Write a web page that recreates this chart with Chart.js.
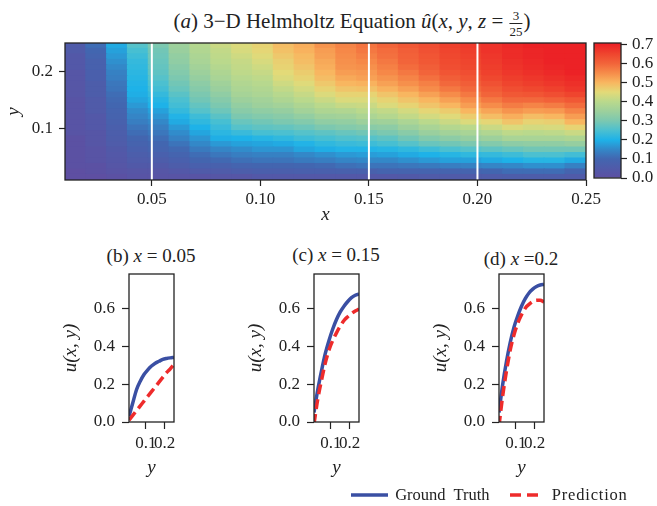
<!DOCTYPE html>
<html>
<head>
<meta charset="utf-8">
<script src="https://cdn.jsdelivr.net/npm/chart.js@4.4.1/dist/chart.umd.min.js"></script>
<style>
  html, body { margin: 0; padding: 0; background: #fff; }
  #wrap { position: relative; width: 657px; height: 506px; overflow: hidden;
          font-family: 'Liberation Serif', serif; color: #222; }
  canvas { position: absolute; }
  .ttl { position: absolute; white-space: nowrap; line-height: 1; transform: translateX(-50%); }
  .frac { display: inline-block; vertical-align: middle; text-align: center; font-size: 13px; line-height: 1; margin: 0 1px; }
  .frac span { display: block; }
  .frac span:first-child { border-bottom: 1px solid #222; padding: 0 1px 1px; }
  .frac span:last-child { padding-top: 1px; }
  #legend { position: absolute; top: 484px; left: 350px; font-size: 16.5px; white-space: nowrap; }
  #legend svg { vertical-align: middle; }
  #legend span { vertical-align: middle; }
</style>
</head>
<body>
<div id="wrap">
  <div class="ttl" style="left:352px; top:9px; font-size:21px;">(<i>a</i>) 3−D Helmholtz Equation <i>û</i>(<i>x</i>, <i>y</i>, <i>z</i> = <span class="frac"><span>3</span><span>25</span></span>)</div>
  <canvas id="heat" width="657" height="235" style="left:0; top:0;"></canvas>
  <canvas id="cbar" width="97" height="215" style="left:560px; top:0;"></canvas>

  <div class="ttl" style="left:151px; top:246px; font-size:19px;">(b) <i>x</i> = 0.05</div>
  <div class="ttl" style="left:336px; top:245px; font-size:19px;">(c) <i>x</i> = 0.15</div>
  <div class="ttl" style="left:521px; top:249px; font-size:19px;">(d) <i>x</i> =0.2</div>
  <canvas id="subB" width="185" height="252" style="left:0; top:230px;"></canvas>
  <canvas id="subC" width="185" height="252" style="left:185px; top:230px;"></canvas>
  <canvas id="subD" width="185" height="252" style="left:370px; top:230px;"></canvas>

  <div id="legend">
    <svg width="38" height="10"><line x1="1" y1="5" x2="38" y2="5" stroke="#3a4fa3" stroke-width="3.3"/></svg>
    <span style="margin-left:3px;">Ground&nbsp; Truth</span>
    <svg width="30" height="10" style="margin-left:16px;"><line x1="0" y1="5" x2="30" y2="5" stroke="#ee2b2b" stroke-width="3.3" stroke-dasharray="11 6"/></svg>
    <span style="margin-left:8px; letter-spacing:0.8px;">Prediction</span>
  </div>
</div>

<script>
// grid of the heatmap (x and y sample points)
const gridX = [0.01, 0.02, 0.03, 0.04, 0.05, 0.06, 0.07, 0.08, 0.09, 0.10, 0.11, 0.12, 0.13,
               0.14, 0.15, 0.16, 0.17, 0.18, 0.19, 0.20, 0.21, 0.22, 0.23, 0.24, 0.25];
const gridY = [0.01, 0.02, 0.03, 0.04, 0.05, 0.06, 0.07, 0.08, 0.09, 0.10, 0.11, 0.12, 0.13,
               0.14, 0.15, 0.16, 0.17, 0.18, 0.19, 0.20, 0.21, 0.22, 0.23, 0.24, 0.25];

// predicted u at z = 3/25, one array per x column, values from y = 0.01 up to y = 0.25
const uHat = [
  [0.00,0.00,0.01,0.01,0.01,0.01,0.01,0.01,0.02,0.02,0.02,0.02,0.02,0.02,0.02,0.03,0.03,0.03,0.03,0.03,0.04,0.04,0.04,0.05,0.05],
  [0.00,0.01,0.01,0.02,0.02,0.02,0.03,0.03,0.03,0.04,0.04,0.04,0.05,0.05,0.05,0.06,0.06,0.06,0.07,0.07,0.08,0.08,0.09,0.10,0.11],
  [0.01,0.02,0.03,0.035,0.04,0.045,0.055,0.06,0.065,0.07,0.08,0.085,0.09,0.10,0.105,0.11,0.12,0.125,0.135,0.14,0.15,0.16,0.17,0.18,0.19],
  [0.02,0.03,0.045,0.055,0.065,0.075,0.085,0.095,0.11,0.12,0.135,0.145,0.155,0.17,0.185,0.195,0.20,0.205,0.21,0.215,0.22,0.225,0.235,0.245,0.26],
  [0.02,0.03,0.045,0.06,0.075,0.09,0.10,0.11,0.125,0.135,0.15,0.165,0.18,0.20,0.21,0.225,0.24,0.25,0.26,0.27,0.275,0.28,0.285,0.29,0.30],
  [0.02,0.04,0.06,0.075,0.09,0.105,0.12,0.14,0.155,0.17,0.19,0.205,0.225,0.24,0.25,0.265,0.28,0.29,0.30,0.31,0.32,0.33,0.335,0.345,0.35],
  [0.02,0.05,0.075,0.095,0.11,0.13,0.15,0.165,0.185,0.20,0.22,0.235,0.26,0.275,0.29,0.30,0.315,0.325,0.34,0.35,0.36,0.37,0.375,0.385,0.39],
  [0.03,0.055,0.08,0.105,0.125,0.145,0.17,0.195,0.215,0.23,0.245,0.265,0.285,0.30,0.315,0.33,0.345,0.355,0.37,0.38,0.39,0.40,0.405,0.41,0.42],
  [0.03,0.065,0.09,0.115,0.135,0.155,0.18,0.20,0.23,0.26,0.28,0.30,0.32,0.335,0.35,0.365,0.375,0.385,0.395,0.405,0.41,0.415,0.425,0.435,0.44],
  [0.04,0.07,0.095,0.12,0.14,0.165,0.185,0.21,0.245,0.27,0.29,0.31,0.33,0.35,0.36,0.375,0.385,0.395,0.405,0.415,0.425,0.435,0.445,0.455,0.46],
  [0.04,0.07,0.095,0.12,0.14,0.165,0.19,0.22,0.25,0.275,0.30,0.32,0.34,0.36,0.38,0.395,0.41,0.425,0.44,0.45,0.46,0.465,0.475,0.485,0.49],
  [0.04,0.075,0.10,0.13,0.15,0.185,0.205,0.235,0.26,0.285,0.31,0.335,0.36,0.38,0.40,0.415,0.43,0.445,0.46,0.47,0.48,0.49,0.495,0.505,0.51],
  [0.04,0.075,0.105,0.135,0.16,0.195,0.22,0.245,0.27,0.30,0.33,0.355,0.38,0.40,0.42,0.44,0.46,0.475,0.49,0.50,0.51,0.515,0.525,0.53,0.54],
  [0.04,0.08,0.115,0.145,0.17,0.205,0.23,0.255,0.28,0.31,0.335,0.36,0.385,0.415,0.44,0.46,0.48,0.50,0.515,0.53,0.54,0.545,0.55,0.555,0.56],
  [0.04,0.08,0.12,0.15,0.175,0.205,0.235,0.26,0.29,0.32,0.35,0.375,0.40,0.42,0.44,0.46,0.485,0.505,0.525,0.535,0.545,0.555,0.565,0.575,0.58],
  [0.04,0.09,0.12,0.15,0.18,0.21,0.245,0.27,0.30,0.325,0.355,0.39,0.41,0.44,0.46,0.48,0.505,0.525,0.54,0.555,0.565,0.575,0.585,0.59,0.60],
  [0.045,0.09,0.125,0.16,0.19,0.22,0.26,0.29,0.32,0.35,0.375,0.41,0.43,0.46,0.48,0.50,0.525,0.545,0.56,0.575,0.59,0.60,0.605,0.61,0.62],
  [0.05,0.09,0.13,0.17,0.20,0.235,0.28,0.31,0.345,0.37,0.40,0.43,0.455,0.48,0.50,0.525,0.55,0.565,0.585,0.60,0.61,0.62,0.625,0.63,0.635],
  [0.05,0.09,0.135,0.18,0.21,0.25,0.29,0.325,0.36,0.39,0.42,0.445,0.47,0.50,0.525,0.55,0.575,0.595,0.61,0.625,0.635,0.64,0.645,0.65,0.655],
  [0.05,0.09,0.14,0.18,0.22,0.26,0.30,0.34,0.37,0.40,0.44,0.47,0.50,0.53,0.55,0.575,0.595,0.61,0.625,0.635,0.645,0.65,0.655,0.66,0.665],
  [0.055,0.10,0.145,0.19,0.225,0.27,0.31,0.35,0.385,0.42,0.455,0.49,0.52,0.55,0.575,0.60,0.615,0.63,0.645,0.655,0.66,0.665,0.67,0.675,0.675],
  [0.06,0.11,0.15,0.20,0.235,0.28,0.325,0.37,0.405,0.44,0.48,0.51,0.54,0.57,0.595,0.62,0.635,0.65,0.66,0.67,0.675,0.68,0.685,0.685,0.69],
  [0.06,0.11,0.16,0.21,0.25,0.29,0.33,0.37,0.40,0.43,0.46,0.49,0.53,0.56,0.595,0.625,0.645,0.66,0.67,0.68,0.685,0.69,0.695,0.695,0.70],
  [0.06,0.11,0.16,0.21,0.25,0.29,0.33,0.37,0.405,0.435,0.465,0.50,0.535,0.57,0.605,0.635,0.655,0.67,0.68,0.69,0.695,0.70,0.70,0.705,0.705],
  [0.05,0.09,0.14,0.19,0.24,0.29,0.34,0.38,0.42,0.46,0.50,0.53,0.56,0.59,0.62,0.65,0.67,0.68,0.69,0.70,0.705,0.71,0.71,0.71,0.71]
];

// white cut lines on the heatmap (the x of panels b, c, d)
const xCuts = [0.05, 0.15, 0.20];

// tick labels
const heatXTicks = [0.05, 0.10, 0.15, 0.20, 0.25];
const heatYTicks = [0.1, 0.2];
const cbarTicks = [0.0, 0.1, 0.2, 0.3, 0.4, 0.5, 0.6, 0.7];
const subXTicks = [0.1, 0.2];
const subYTicks = [0.0, 0.2, 0.4, 0.6];

// line profiles u(x, y) along y for the three cuts
const ySample = [0.01, 0.03, 0.05, 0.07, 0.09, 0.11, 0.13, 0.15, 0.17, 0.19, 0.21, 0.23, 0.25];
const truthB = [0.03, 0.10, 0.17, 0.215, 0.25, 0.275, 0.295, 0.31, 0.32, 0.33, 0.335, 0.338, 0.34];
const predB  = [0.01, 0.035, 0.06, 0.085, 0.11, 0.135, 0.16, 0.185, 0.21, 0.235, 0.26, 0.28, 0.305];
const truthC = [0.05, 0.17, 0.27, 0.36, 0.43, 0.49, 0.54, 0.58, 0.61, 0.635, 0.655, 0.668, 0.675];
const predC  = [-0.01, 0.12, 0.22, 0.31, 0.38, 0.43, 0.47, 0.505, 0.535, 0.555, 0.572, 0.585, 0.595];
const truthD = [0.05, 0.20, 0.32, 0.42, 0.50, 0.56, 0.61, 0.65, 0.68, 0.70, 0.714, 0.722, 0.725];
const predD  = [-0.02, 0.14, 0.27, 0.38, 0.46, 0.52, 0.565, 0.60, 0.62, 0.635, 0.642, 0.642, 0.632];

// colour map (value -> colour)
const cbarMax = 0.707;
const cmapStops = [
  [0.00, '#5e4fa2'], [0.10, '#4266b0'], [0.15, '#3388c8'], [0.20, '#1eb2e8'],
  [0.25, '#4cc0d0'], [0.30, '#7cc8b0'], [0.35, '#9dd09c'], [0.40, '#bad98c'],
  [0.45, '#e3da78'], [0.50, '#f8b660'], [0.55, '#f68c4a'], [0.60, '#f2643a'],
  [0.65, '#ef452e'], [0.70, '#ec2226']
];

const INK = '#222';
const FONT = 'Liberation Serif';
const BLUE = '#3a4fa3';
const RED = '#ee2b2b';

const hexRgb = h => [1, 3, 5].map(k => parseInt(h.slice(k, k + 2), 16));
function cmap(v) {
  if (v <= cmapStops[0][0]) return cmapStops[0][1];
  for (let i = 1; i < cmapStops.length; i++) {
    const [v1, c1] = cmapStops[i];
    if (v <= v1) {
      const [v0, c0] = cmapStops[i - 1];
      const f = (v - v0) / (v1 - v0);
      const a = hexRgb(c0), b = hexRgb(c1);
      return `rgb(${a.map((x, k) => Math.round(x + (b[k] - x) * f)).join(',')})`;
    }
  }
  return cmapStops[cmapStops.length - 1][1];
}

// box around each plot area
const framePlugin = {
  id: 'frame',
  afterDatasetsDraw(chart) {
    const { ctx, chartArea: a } = chart;
    ctx.save();
    ctx.strokeStyle = INK;
    ctx.lineWidth = 1.3;
    ctx.strokeRect(a.left, a.top, a.right - a.left, a.bottom - a.top);
    ctx.restore();
  }
};

const tickGrid = { offset: false, drawOnChartArea: false, drawTicks: true, tickLength: 6, tickWidth: 1.2, tickColor: INK };
const fixedTicks = values => axis => { axis.ticks = values.map(v => ({ value: v })); };

Chart.defaults.font.family = FONT;
Chart.defaults.color = INK;
const base = {
  responsive: false,
  animation: false,
  devicePixelRatio: 1,
  events: [],
  plugins: { legend: { display: false }, tooltip: { enabled: false } }
};

// ---- heatmap ----
const cellH = (gridY[gridY.length - 1] - gridY[0]) / gridY.length;
const rowEdge = j => gridY[0] + j * cellH;

const heatRows = gridY.map((yv, j) => ({
  type: 'bar',
  xAxisID: 'xCat',
  yAxisID: 'y',
  data: gridX.map(() => [rowEdge(j), rowEdge(j + 1)]),
  backgroundColor: gridX.map((xv, i) => cmap(uHat[i][j])),
  borderWidth: 0,
  inflateAmount: 0.6,
  barPercentage: 1,
  categoryPercentage: 1,
  grouped: false,
  order: 1
}));

const cutLines = xCuts.map(xc => ({
  type: 'line',
  xAxisID: 'x',
  yAxisID: 'y',
  data: [{ x: xc, y: gridY[0] }, { x: xc, y: gridY[gridY.length - 1] }],
  borderColor: '#ffffff',
  borderWidth: 2,
  pointRadius: 0,
  order: 0
}));

new Chart(document.getElementById('heat'), {
  type: 'bar',
  data: { labels: gridX.map(String), datasets: [...heatRows, ...cutLines] },
  options: {
    ...base,
    layout: { padding: { left: 0, top: 43, right: 71, bottom: 0 } },
    scales: {
      xCat: { type: 'category', display: false, offset: true },
      x: {
        type: 'linear', position: 'bottom', min: 0.01, max: 0.25, offset: false,
        afterBuildTicks: fixedTicks(heatXTicks),
        afterFit: s => { s.height = 55; },
        ticks: { font: { size: 17 }, padding: 3, maxRotation: 0, autoSkip: false, callback: v => v.toFixed(2) },
        grid: tickGrid, border: { display: false },
        title: { display: true, text: 'x', font: { size: 19, style: 'italic' }, padding: { top: 0, bottom: 9 } }
      },
      y: {
        type: 'linear', min: 0.01, max: 0.25,
        afterBuildTicks: fixedTicks(heatYTicks),
        afterFit: s => { s.width = 65; },
        ticks: { font: { size: 17 }, padding: 6, callback: v => v.toFixed(1) },
        grid: tickGrid, border: { display: false },
        title: { display: true, text: 'y', font: { size: 19, style: 'italic' }, padding: { top: 3, bottom: 0 } }
      }
    }
  },
  plugins: [framePlugin]
});

// ---- colour bar ----
new Chart(document.getElementById('cbar'), {
  type: 'bar',
  data: {
    labels: [''],
    datasets: [{
      data: [[0, cbarMax]],
      backgroundColor: c => {
        const y = c.chart.scales.y;
        const p0 = y ? y.getPixelForValue(0) : NaN;
        const p1 = y ? y.getPixelForValue(cbarMax) : NaN;
        if (!Number.isFinite(p0) || !Number.isFinite(p1)) return cmapStops[0][1];
        const g = c.chart.ctx.createLinearGradient(0, p0, 0, p1);
        cmapStops.forEach(([v, col]) => g.addColorStop(v / cbarMax, col));
        return g;
      },
      borderWidth: 0,
      barPercentage: 1,
      categoryPercentage: 1
    }]
  },
  options: {
    ...base,
    layout: { padding: { left: 34, top: 43, right: 0, bottom: 37 } },
    scales: {
      x: { display: false },
      y: {
        position: 'right', min: 0, max: cbarMax,
        afterBuildTicks: fixedTicks(cbarTicks),
        afterFit: s => { s.width = 36; },
        ticks: { font: { size: 17 }, padding: 5, autoSkip: false, callback: v => v.toFixed(1) },
        grid: tickGrid, border: { display: false }
      }
    }
  },
  plugins: [framePlugin]
});

// ---- line panels ----
function linePanel(id, truth, pred) {
  new Chart(document.getElementById(id), {
    type: 'line',
    data: {
      datasets: [
        {
          label: 'Ground Truth',
          data: ySample.map((y, i) => ({ x: y, y: truth[i] })),
          borderColor: BLUE, borderWidth: 3.5, pointRadius: 0,
          cubicInterpolationMode: 'monotone', order: 1
        },
        {
          label: 'Prediction',
          data: ySample.map((y, i) => ({ x: y, y: pred[i] })),
          borderColor: RED, borderWidth: 3.5, borderDash: [10, 5], pointRadius: 0,
          cubicInterpolationMode: 'monotone', order: 0
        }
      ]
    },
    options: {
      ...base,
      layout: { padding: { left: 0, top: 44, right: 11, bottom: 0 } },
      scales: {
        x: {
          type: 'linear', min: 0.01, max: 0.25,
          afterBuildTicks: fixedTicks(subXTicks),
          afterFit: s => { s.height = 60; },
          ticks: { font: { size: 17 }, padding: 4, maxRotation: 0, minRotation: 0, autoSkip: false, callback: v => v.toFixed(1) },
          grid: { ...tickGrid, tickLength: 7 }, border: { display: false },
          title: { display: true, text: 'y', font: { size: 19, style: 'italic' }, padding: { top: 0, bottom: 3 } }
        },
        y: {
          type: 'linear', min: 0, max: 0.78,
          afterBuildTicks: fixedTicks(subYTicks),
          afterFit: s => { s.width = 129; },
          ticks: { font: { size: 17 }, padding: 7, autoSkip: false, callback: v => v.toFixed(1) },
          grid: { ...tickGrid, tickLength: 7 }, border: { display: false },
          title: { display: true, text: 'u(x, y)', font: { size: 19, style: 'italic' }, padding: { top: 60, bottom: 0 } }
        }
      }
    },
    plugins: [framePlugin]
  });
}

linePanel('subB', truthB, predB);
linePanel('subC', truthC, predC);
linePanel('subD', truthD, predD);
</script>
</body>
</html>
